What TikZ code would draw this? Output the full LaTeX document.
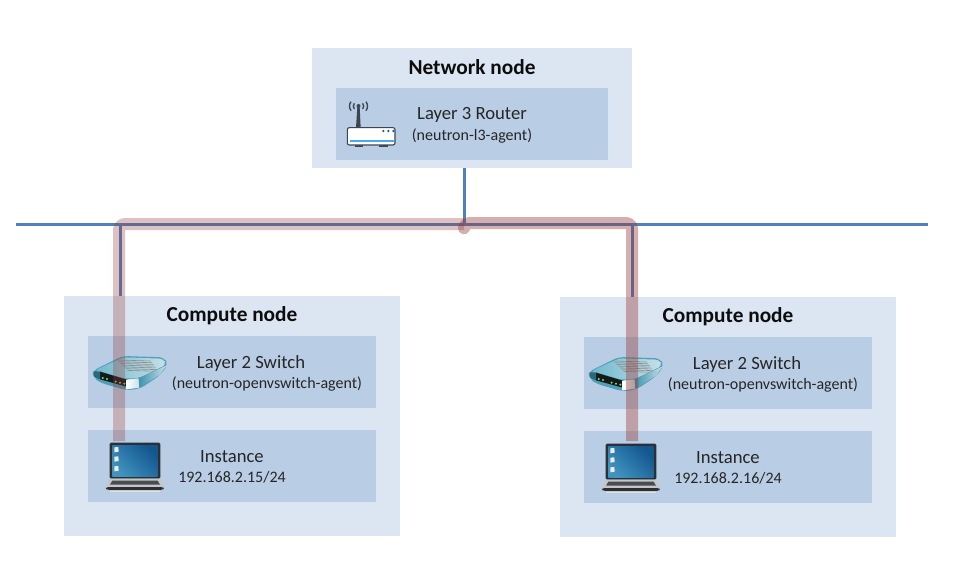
\documentclass[tikz,border=0pt]{standalone}
\usepackage{fontspec}
\setmainfont{Carlito}
\tikzset{
  x=0.75pt,y=-0.75pt,
  outerbox/.style={fill=outerfill,draw=none,minimum width=#1*0.75pt,minimum height=180pt,inner sep=0pt,anchor=north west},
  innerbox/.style={fill=innerfill,draw=none,minimum width=#1*0.75pt,minimum height=54pt,inner sep=0pt,anchor=north west},
  title/.style={font=\fontsize{16}{18}\selectfont\bfseries,text=black!95,inner sep=0pt},
  main/.style={font=\fontsize{14}{16}\selectfont,text=black!85,inner sep=0pt},
  sub/.style={font=\fontsize{12}{14}\selectfont,text=black!85,inner sep=0pt},
  netline/.style={draw=netblue,line width=2pt},
  pipe/.style={draw=pipered,line width=9pt,rounded corners=4pt,line join=round},
  pics/switchicon/.style={code={
    \begin{scope}[x=0.25pt,y=-0.25pt]
      \fill[swbody,rounded corners=4pt] (38,62)--(128,18)--(252,22)--(264,44)--(240,76)--(180,116)--(140,121)--(60,98)--(40,82)--cycle;
      \shade[left color=swlight,right color=swpale,rounded corners=3pt] (44,61)--(130,22)--(250,26)--(259,44)--(176,84)--(136,86)--(62,64)--cycle;
      \foreach \i in {0,1,2,3,4,5,6}
        \draw[black!45,line width=0.45pt] (112+\i*5,30+\i*5.2)--(212+\i*4,33+\i*5.2);
      \fill[swdark] (60,65)--(140,89)--(140,110)--(60,88)--cycle;
      \shade[left color=white,right color=swpale] (140,89)--(176,85)--(178,113)--(140,118)--cycle;
      \shade[left color=swside,right color=swpale] (176,85)--(260,46)--(240,74)--(178,113)--cycle;
      \fill[swside!70!black] (40,64)--(60,65)--(60,88)--(42,80)--cycle;
      \foreach \p in {(68,84),(81,87),(107,95),(120,98),(133,101)}
        \fill[swled] \p circle (3.4);
    \end{scope}
  }},
  pics/laptopicon/.style={code={
    \begin{scope}[x=0.25pt,y=-0.25pt]
      \fill[black!12] (90,418) rectangle (240,427);
      \fill[lapdark,rounded corners=1pt] (89,278) rectangle (241,386);
      \shade[top color=lapblueB,bottom color=lapblueA,shading angle=-45] (97,285) rectangle (233,378);
      \foreach \p in {298,326,355}
        \fill[white!92!black] (103,\p-6)--(115,\p-7)--(116,\p+7)--(103,\p+9)--cycle;
      \fill[lapsilver] (89,386)--(241,386)--(252,412)--(77,412)--cycle;
      \fill[lapkeys] (97,392)--(233,392)--(240,404)--(90,404)--cycle;
      \fill[lapdark,rounded corners=2pt] (77,411)--(252,411)--(250,420)--(80,420)--cycle;
    \end{scope}
  }},
  pics/routericon/.style={code={
    \begin{scope}[x=0.25pt,y=-0.25pt]
      \fill[rtdark] (45,148) rectangle (70,155);
      \fill[rtdark] (118,148) rectangle (145,155);
      \fill[rtdark] (52,36)--(59,36)--(62,98)--(48,98)--cycle;
      \fill[rtdark] (55.5,33) circle (6);
      \draw[rtdark,line width=1pt] (43,25) .. controls (39,30) and (39,37) .. (43,42);
      \draw[rtdark,line width=1pt] (33,20) .. controls (27,28) and (27,39) .. (33,47);
      \draw[rtdark,line width=1pt] (68,25) .. controls (72,30) and (72,37) .. (68,42);
      \draw[rtdark,line width=1pt] (78,20) .. controls (84,28) and (84,39) .. (78,47);
      \draw[fill=white,draw=rtdark,line width=0.8pt,rounded corners=1.5pt] (22,98) rectangle (165,150);
      \fill[rtstrip] (30,134) rectangle (162,141);
      \foreach \p in {130,145,160}
        \fill[rtdots] (\p,108) circle (4);
    \end{scope}
  }},
}
\definecolor{outerfill}{HTML}{DCE6F2}
\definecolor{innerfill}{HTML}{B9CDE5}
\definecolor{netblue}{HTML}{4F81BD}
\definecolor{pipered}{HTML}{953735}
\definecolor{swbody}{HTML}{4E9FB8}
\definecolor{swlight}{HTML}{6FB8CC}
\definecolor{swpale}{HTML}{C8E0E8}
\definecolor{swdark}{HTML}{15191C}
\definecolor{swside}{HTML}{3F93AE}
\definecolor{swled}{HTML}{7FE058}
\definecolor{lapdark}{HTML}{2B3036}
\definecolor{lapsilver}{HTML}{C4C6C8}
\definecolor{lapkeys}{HTML}{4A4C50}
\definecolor{lapblueA}{HTML}{3F93BE}
\definecolor{lapblueB}{HTML}{14568F}
\definecolor{rtdark}{HTML}{3C4650}
\definecolor{rtstrip}{HTML}{4BA8EE}
\definecolor{rtdots}{HTML}{1F5A96}
\begin{document}
\begin{tikzpicture}
  \useasboundingbox (0,0) rectangle (960,585);
  \fill[white] (0,0) rectangle (960,585);

  % boxes
  \node[outerbox=320,minimum height=90pt] (network) at (312,48) {};
  \node[innerbox=272] (router) at (336,88) {};
  \node[outerbox=336] (computeL) at (64,296) {};
  \node[innerbox=288] (switchL) at (88,336) {};
  \node[innerbox=288] (instanceL) at (88,430) {};
  \node[outerbox=336] (computeR) at (560,297) {};
  \node[innerbox=288] (switchR) at (584,337) {};
  \node[innerbox=288] (instanceR) at (584,431) {};

  % network lines
  \coordinate (busW) at (16,224.5);
  \coordinate (busE) at (928,224.5);
  \coordinate (busC) at (464.5,224.5);
  \coordinate (busL) at (120.5,224.5);
  \coordinate (busR) at (632.5,224.5);
  \coordinate (dropL) at (120.5,296);
  \coordinate (dropR) at (632.5,297);
  \coordinate (netBottom) at (464.5,168);
  \draw[netline] (busW) -- (busE);
  \draw[netline] (netBottom) -- (busC);
  \draw[netline] (busL) -- (dropL);
  \draw[netline] (busR) -- (dropR);

  % icons below the pipes
  \pic at (80,350) {switchicon};
  \pic at (576,351) {switchicon};
  \pic at (340,95) {routericon};

  % traffic paths
  \coordinate (pipeStartL) at (464,224);
  \coordinate (pipeCornerL) at (119,224);
  \coordinate (pipeEndL) at (119,441);
  \coordinate (pipeStartR) at (464,226);
  \coordinate (pipeTurnR) at (464,223);
  \coordinate (pipeCornerR) at (632,223);
  \coordinate (pipeEndR) at (632,441);
  \draw[pipe,opacity=0.3] (pipeStartL) -- (pipeCornerL) -- (pipeEndL);
  \draw[pipe,opacity=0.4] (pipeStartR) -- (pipeTurnR) -- (pipeCornerR) -- (pipeEndR);

  % laptops above the pipes
  \pic at (80,350) {laptopicon};
  \pic at (576,351) {laptopicon};

  % text
  \node[title] (networkT) at (472,67) {Network node};
  \node[main] (routerT) at (472,115) {Layer 3 Router};
  \node[sub] (routerS) at (472,136) {(neutron-l3-agent)};
  \node[title] (computeLT) at (232,316) {Compute node};
  \node[main] (switchLT) at (251,364) {Layer 2 Switch};
  \node[sub] (switchLS) at (267,384) {(neutron-openvswitch-agent)};
  \node[main] (instanceLT) at (232,457) {Instance};
  \node[sub] (instanceLS) at (232,477) {192.168.2.15/24};
  \node[title] (computeRT) at (728,317) {Compute node};
  \node[main] (switchRT) at (747,365) {Layer 2 Switch};
  \node[sub] (switchRS) at (763,385) {(neutron-openvswitch-agent)};
  \node[main] (instanceRT) at (728,458) {Instance};
  \node[sub] (instanceRS) at (728,478) {192.168.2.16/24};
\end{tikzpicture}
\end{document}
